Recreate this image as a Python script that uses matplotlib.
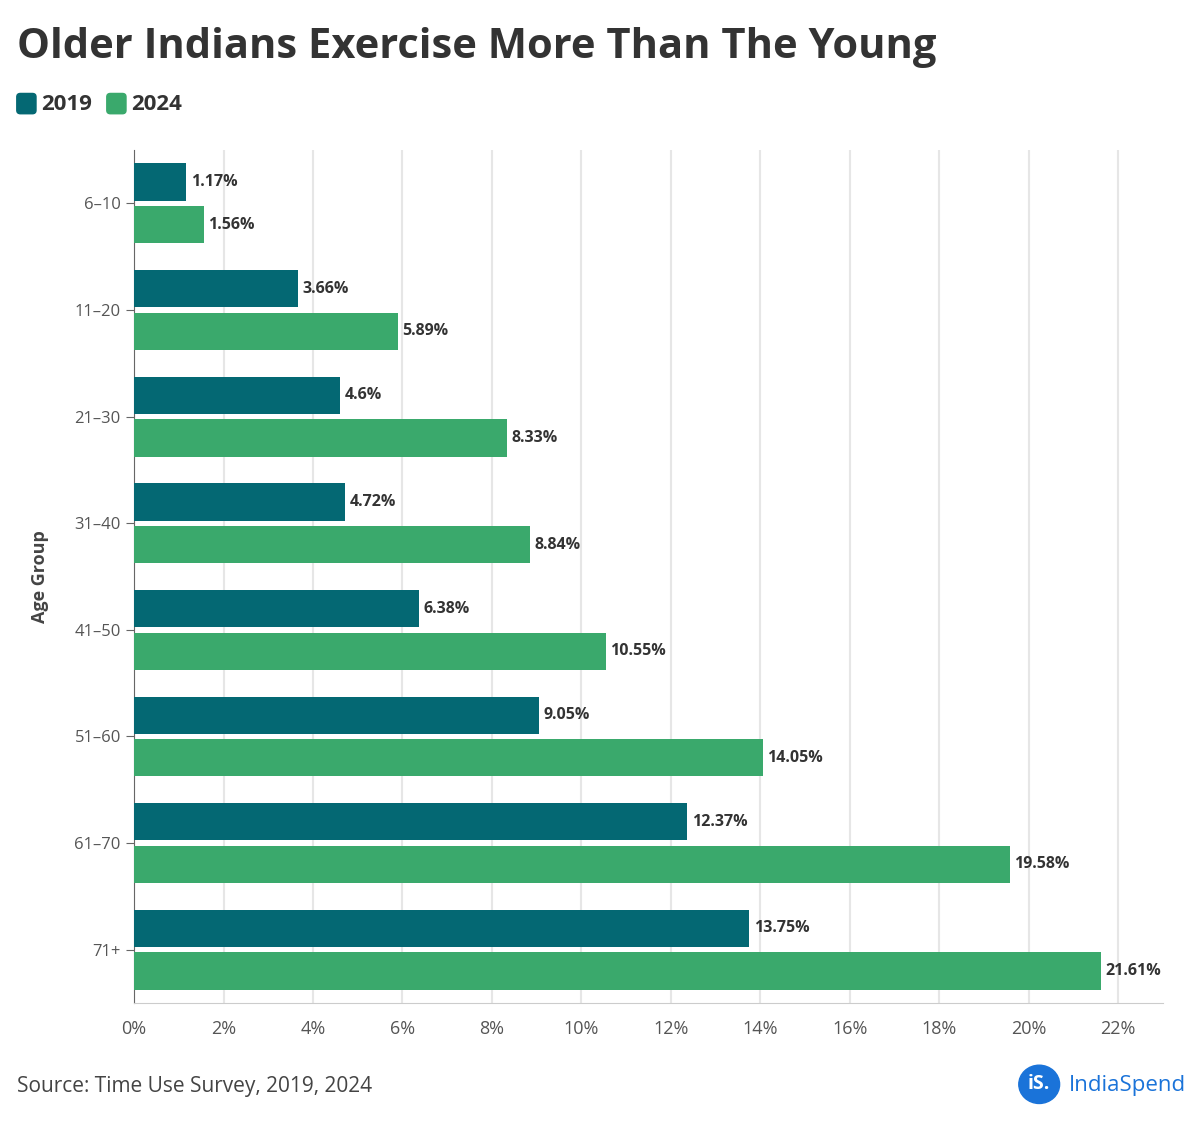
import matplotlib
matplotlib.use("Agg")
import matplotlib.pyplot as plt
from matplotlib.patches import Circle, FancyBboxPatch
import numpy as np

categories = ["6–10", "11–20", "21–30", "31–40", "41–50", "51–60", "61–70", "71+"]
v2019 = [1.17, 3.66, 4.6, 4.72, 6.38, 9.05, 12.37, 13.75]
v2024 = [1.56, 5.89, 8.33, 8.84, 10.55, 14.05, 19.58, 21.61]
lab2019 = ["1.17%", "3.66%", "4.6%", "4.72%", "6.38%", "9.05%", "12.37%", "13.75%"]
lab2024 = ["1.56%", "5.89%", "8.33%", "8.84%", "10.55%", "14.05%", "19.58%", "21.61%"]
xticks = list(range(0, 23, 2))

plt.rcParams['font.family'] = ['Open Sans', 'DejaVu Sans']
c19 = "#046873"
c24 = "#3aa96c"

fig = plt.figure(figsize=(12, 11.26), dpi=100)
ax = fig.add_axes([0.1117, 0.1092, 0.8575, 0.7575])
y = np.arange(len(categories))
h = 0.35
ax.barh(y - 0.2, v2019, height=h, color=c19, zorder=3)
ax.barh(y + 0.2, v2024, height=h, color=c24, zorder=3)
for yi, v, l in zip(y, v2019, lab2019):
    ax.text(v + 0.1, yi - 0.2, l, va="center", ha="left", fontsize=11.5, fontweight="bold", color="#333333", zorder=4)
for yi, v, l in zip(y, v2024, lab2024):
    ax.text(v + 0.1, yi + 0.2, l, va="center", ha="left", fontsize=11.5, fontweight="bold", color="#333333", zorder=4, clip_on=False)
ax.set_ylim(7.5, -0.5)
ax.set_xlim(0, 23)
ax.set_yticks(y)
ax.set_yticklabels(categories, fontsize=12, color="#555555")
ax.set_xticks(xticks)
ax.set_xticklabels([f"{t}%" for t in xticks], fontsize=13, color="#555555")
ax.grid(axis="x", color="#e6e6e6", linewidth=1.5, zorder=0)
for s in ["top", "right"]:
    ax.spines[s].set_visible(False)
ax.spines["left"].set_color("#666666")
ax.spines["bottom"].set_color("#cccccc")
ax.tick_params(axis="y", length=6, color="#666666")
ax.tick_params(axis="x", length=0, pad=12)
ax.set_ylabel("Age Group", fontsize=13, fontweight="bold", color="#444444", labelpad=18)

fig.text(0.014, 0.958, "Older Indians Exercise More Than The Young", fontsize=30, fontweight="bold", color="#333333", va="center")
# legend
for x0, col, lab in [(0.014, c19, "2019"), (0.089, c24, "2024")]:
    fig.patches.append(FancyBboxPatch((x0, 0.899), 0.016, 0.018, boxstyle="round,pad=0,rounding_size=0.003",
                                      transform=fig.transFigure, color=col))
    fig.text(x0 + 0.020, 0.907, lab, fontsize=16, fontweight="bold", color="#333333", va="center")

fig.text(0.014, 0.035, "Source: Time Use Survey, 2019, 2024", fontsize=15, color="#444444", va="center")
fig.patches.append(Circle((0.866, 0.037), 0.017, transform=fig.transFigure, color="#1a73d9"))
fig.text(0.866, 0.037, "iS.", fontsize=14, fontweight="bold", color="white", ha="center", va="center")
fig.text(0.891, 0.036, "IndiaSpend", fontsize=16, color="#1a73d9", va="center")

fig.savefig("out.png", dpi=100)
